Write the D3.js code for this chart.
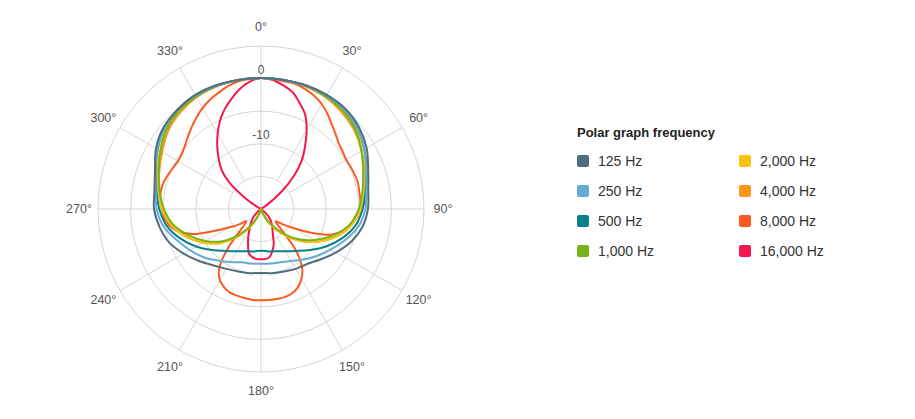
<!DOCTYPE html>
<html><head><meta charset="utf-8">
<script src="https://cdn.jsdelivr.net/npm/d3@7"></script>
<style>
body{margin:0;background:#fff;}
svg{display:block;font-family:"Liberation Sans",Arial,sans-serif;}
</style></head><body>
<svg id="chart" width="915" height="419"></svg>
<script>
// ---------- data ----------
const legendTitle = "Polar graph frequency";
const seriesNames = ["125 Hz","250 Hz","500 Hz","1,000 Hz","2,000 Hz","4,000 Hz","8,000 Hz","16,000 Hz"];
const angleTicks = [0,30,60,90,120,150,180,210,240,270,300,330];
const angleTickLabels = ["0°","30°","60°","90°","120°","150°","180°","210°","240°","270°","300°","330°"];
const ringLevels = [-15,-10,-5,0,5];
const radialTicks = [-10,0];
const radialTickLabels = ["-10","0"];

const angles10 = [0,10,20,30,40,50,60,70,80,90,100,110,120,130,140,150,160,170,
                  180,190,200,210,220,230,240,250,260,270,280,290,300,310,320,330,340,350];
const angles5 = [0,5,10,15,20,25,30,35,40,45,50,55,60,65,70,75,80,85,
                 90,95,100,105,110,115,120,125,130,135,140,145,150,155,160,165,170,175,
                 180,185,190,195,200,205,210,215,220,225,230,235,240,245,250,255,260,265,
                 270,275,280,285,290,295,300,305,310,315,320,325,330,335,340,345,350,355];

const hz125 = [0.1,0.1,0.2,0.2,0.1,-0.4,-1.3,-2.5,-3.3,-3.6,-4.2,-5.3,-6.7,-8.0,-9.0,-9.4,-9.8,-10.0,
               -10.2,-10.0,-9.8,-9.4,-8.7,-7.6,-6.3,-5.0,-4.2,-3.6,-3.4,-2.7,-1.4,-0.5,-0.1,0.2,0.2,0.1];
const hz250 = [0.1,0.1,0.1,0.1,-0.1,-0.7,-1.7,-2.8,-3.6,-4.0,-4.8,-6.2,-7.6,-8.8,-9.9,-10.8,-11.3,-11.5,
               -11.6,-11.5,-11.3,-10.6,-9.7,-8.5,-7.4,-6.2,-4.8,-4.0,-3.6,-2.8,-1.7,-0.7,-0.1,0.1,0.1,0.1];
const hz500 = [0.1,0.1,0.1,0.1,-0.1,-0.7,-1.7,-2.8,-3.7,-4.4,-5.3,-6.8,-8.5,-10.2,-11.6,-12.5,-13.1,-13.4,
               -13.6,-13.4,-13.1,-12.5,-11.6,-10.2,-8.5,-6.8,-5.3,-4.4,-3.7,-2.8,-1.7,-0.7,-0.1,0.1,0.1,0.1];
const hz1000 = [0.1,0.1,0.1,-0.1,-0.4,-1.1,-2.2,-3.3,-4.2,-5.0,-6.2,-8.2,-10.5,-12.9,-15.6,-17.9,-19.5,-20,
                -20,-20,-19.4,-17.4,-14.9,-12.3,-10.2,-8.2,-6.3,-5.1,-4.2,-3.3,-2.2,-1.1,-0.4,-0.1,0.1,0.1];
const hz2000 = [0.1,0.1,0.1,-0.1,-0.4,-1.0,-2.1,-3.1,-4.0,-4.7,-5.9,-7.7,-10.0,-12.5,-15.1,-17.5,-19.4,-20,
                -20,-20,-19.2,-17.1,-14.5,-11.9,-9.7,-7.7,-6.0,-4.8,-4.0,-3.1,-2.1,-1.0,-0.2,0.0,0.1,0.1];
const hz4000 = [0.1,0.1,0.0,-0.2,-0.7,-1.3,-2.2,-3.3,-4.0,-4.7,-5.9,-7.7,-10.0,-12.5,-15.1,-17.5,-19.4,-20,
                -20,-20,-19.2,-17.1,-14.5,-11.9,-9.7,-7.7,-6.0,-4.8,-4.2,-3.4,-2.5,-1.4,-0.7,-0.2,0.0,0.1];
const hz8000 = [0.1,0.0,-0.1,-0.1,-0.4,-0.8,-1.4,-2.2,-3.1,-3.8,-4.4,-4.7,-4.9,-4.8,-4.7,-4.6,-4.7,-4.7,
                -4.8,-5.4,-6.0,-7.0,-8.5,-11.3,-14.0,-15.9,-17.1,-15.7,-11.6,-9.0,-7.6,-6.7,-6.2,-6.0,-6.0,-6.0,
                -6.0,-6.0,-6.1,-6.2,-6.3,-6.7,-7.4,-8.8,-12.0,-15.9,-17.1,-15.9,-14.3,-12.0,-8.8,-6.8,-5.7,-5.1,
                -4.8,-4.5,-4.4,-4.5,-4.8,-5.1,-5.3,-5.2,-4.8,-4.2,-3.5,-2.8,-2.1,-1.5,-1.0,-0.5,-0.1,0.0];
const hz16000 = [0.1,-0.1,-0.7,-1.4,-2.7,-4.0,-6.0,-8.2,-10.3,-12.9,-16.0,-18.9,-20,-20,-20,-20,-20,-20,
                 -20,-20,-20,-20,-20,-20,-20,-20,-19.2,-18.3,-17.7,-17.1,-16.5,-15.7,-14.3,-13.3,-12.5,-12.3,
                 -12.3,-12.3,-12.5,-12.9,-14.2,-15.4,-16.5,-17.2,-17.9,-18.6,-19.4,-20,-20,-20,-20,-20,-20,-20,
                 -20,-20,-20,-20,-20,-20,-19.2,-16.9,-13.6,-11.4,-9.9,-8.3,-6.7,-5.1,-3.7,-2.5,-1.3,-0.4];

const seriesValues = [hz125,hz250,hz500,hz1000,hz2000,hz4000,hz8000,hz16000];
const seriesAngles = [angles10,angles10,angles10,angles10,angles10,angles10,angles5,angles5];
const seriesColors = ["#526d7b","#68aad6","#0b7f8c","#7ab317","#fdc10f","#fb961a","#fd5a22","#f5174c"];

// ---------- layout ----------
const svg = d3.select("#chart");
const cx = 261, cy = 209, R = 163;
const g = svg.append("g").attr("transform",`translate(${cx},${cy})`);
const rScale = d3.scaleLinear().domain([-20,5]).range([0,R]).clamp(true);
const aScale = d3.scaleLinear().domain([0,360]).range([0,2*Math.PI]);
const gridColor = "#d6d6d6";

// rings
g.selectAll("circle.ring").data(ringLevels).join("circle")
  .attr("class","ring").attr("r",d=>rScale(d))
  .attr("fill","none").attr("stroke",gridColor).attr("stroke-width",1);

// spokes
g.selectAll("line.spoke").data(angleTicks).join("line")
  .attr("class","spoke")
  .attr("x1",d=>Math.sin(aScale(d))*(d%90===0?0:rScale(-15)))
  .attr("y1",d=>-Math.cos(aScale(d))*(d%90===0?0:rScale(-15)))
  .attr("x2",d=>Math.sin(aScale(d))*R)
  .attr("y2",d=>-Math.cos(aScale(d))*R)
  .attr("stroke",gridColor).attr("stroke-width",1);

// angle labels
g.selectAll("text.alab").data(angleTicks).join("text")
  .attr("class","alab")
  .attr("x",d=>Math.sin(aScale(d))*(R+19))
  .attr("y",d=>-Math.cos(aScale(d))*(R+19))
  .attr("text-anchor","middle").attr("dominant-baseline","central")
  .attr("font-size",12.5).attr("fill","#555")
  .text((d,i)=>angleTickLabels[i]);

// curves (drawn last-to-first so 125 Hz is on top)
const line = d3.lineRadial().curve(d3.curveCatmullRomClosed.alpha(0.5));
const order = d3.range(seriesValues.length).reverse();
g.selectAll("path.series").data(order).join("path")
  .attr("class","series")
  .attr("d",i=>line(seriesValues[i].map((v,k)=>[aScale(seriesAngles[i][k]), rScale(v)])))
  .attr("fill","none").attr("stroke",i=>seriesColors[i])
  .attr("stroke-width",2).attr("stroke-linejoin","round");

// radial labels
g.selectAll("text.rlab").data(radialTicks).join("text")
  .attr("class","rlab")
  .attr("x",0).attr("y",d=>-rScale(d)-5)
  .attr("text-anchor","middle")
  .attr("font-size",12).attr("fill","#555")
  .text((d,i)=>radialTickLabels[i]);

// legend
const lg = svg.append("g");
lg.append("text").attr("x",577).attr("y",137)
  .attr("font-size",13).attr("font-weight","bold").attr("fill","#222")
  .text(legendTitle);
const items = lg.selectAll("g.item").data(seriesNames).join("g")
  .attr("class","item")
  .attr("transform",(d,i)=>`translate(${i<4?577:739},${161+30*(i%4)})`);
items.append("rect").attr("x",0).attr("y",-6).attr("width",12).attr("height",12)
  .attr("rx",2).attr("fill",(d,i)=>seriesColors[i]);
items.append("text").attr("x",21).attr("y",0).attr("dominant-baseline","central")
  .attr("font-size",14).attr("fill","#333").text(d=>d);
</script>
</body></html>
